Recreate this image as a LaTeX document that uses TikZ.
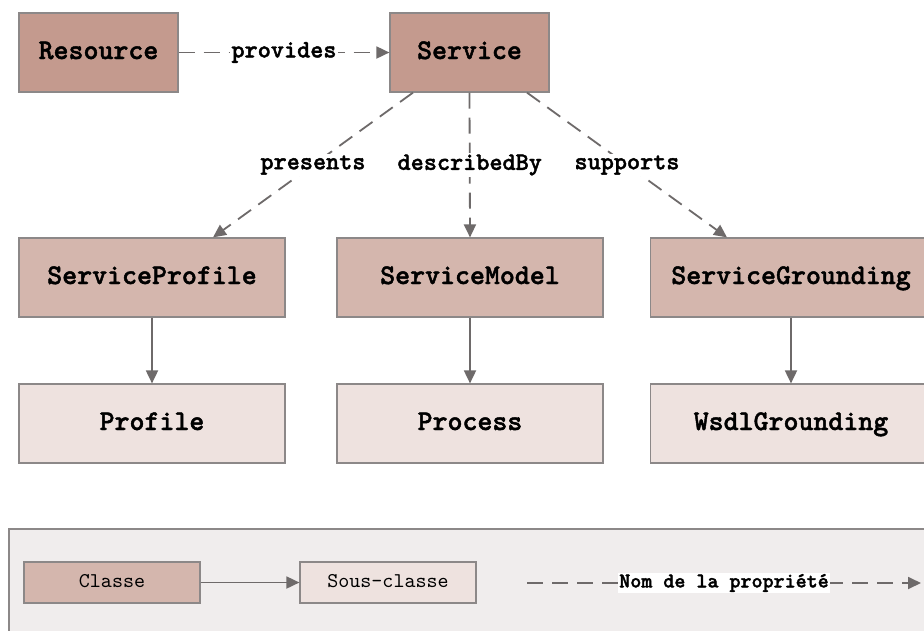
\documentclass[tikz,border=0pt]{standalone}
\usepackage{fontspec}
\newfontfamily\classfont{lmmonolt10-bold.otf}[FakeBold=1.6]
\newfontfamily\legendfont{lmmono10-regular.otf}
\usetikzlibrary{arrows.meta}

\definecolor{classdark}{HTML}{C49A8E}
\definecolor{classmid}{HTML}{D4B6AD}
\definecolor{classlight}{HTML}{EEE2DF}
\definecolor{legendbg}{HTML}{F0EDED}
\definecolor{edgegray}{HTML}{6E6A6A}
\definecolor{rimgray}{HTML}{8C8888}

\tikzset{
    box/.style={draw=rimgray, line width=1.2pt, inner sep=0pt, minimum height=79pt,
        text height=18pt, text depth=5pt,
        font=\classfont\fontsize{28.5}{30}\selectfont},
    topclass/.style={box, fill=classdark},
    midclass/.style={box, fill=classmid},
    subclass/.style={box, fill=classlight},
    legbox/.style={draw=rimgray, line width=1.2pt, inner sep=0pt, minimum width=176pt,
        minimum height=41pt, text height=13pt, text depth=4pt,
        font=\legendfont\fontsize{21}{23}\selectfont},
    proparrow/.style={draw=edgegray, line width=1.8pt, dash pattern=on 16pt off 9pt,
        -{Triangle[length=13pt,width=12pt]}},
    subarrow/.style={draw=edgegray, line width=1.8pt, -{Triangle[length=13pt,width=12pt]}},
    proplabel/.style={fill=white, inner sep=1.5pt, text=black,
        font=\classfont\fontsize{25}{27}\selectfont}
}

\begin{document}
\begin{tikzpicture}[x=1pt, y=-1pt]
    \clip (0,0) rectangle (924,630);
    \fill[white] (0,0) rectangle (924,630);

    % top row
    \node[topclass, minimum width=159pt] (res) at (98.5,52.5) {Resource};
    \node[topclass, minimum width=159pt] (svc) at (469.5,52.5) {Service};

    % second row
    \node[midclass, minimum width=266pt] (sprof) at (152,277.5) {ServiceProfile};
    \node[midclass, minimum width=266pt] (smod) at (470,277.5) {ServiceModel};
    \node[midclass, minimum width=281pt] (sgr) at (791,277.5) {ServiceGrounding};

    % third row
    \node[subclass, minimum width=266pt] (prof) at (152,423.5) {Profile};
    \node[subclass, minimum width=266pt] (proc) at (470,423.5) {Process};
    \node[subclass, minimum width=281pt] (wsdl) at (791,423.5) {WsdlGrounding};

    \draw[proparrow] (res) -- node[proplabel] {provides} (svc);
    \draw[proparrow] ([xshift=-56.5pt]svc.south) -- node[proplabel] {presents} ([xshift=61pt]sprof.north);
    \draw[proparrow] (svc.south) -- node[proplabel] {describedBy} (smod.north);
    \draw[proparrow] ([xshift=57.5pt]svc.south) -- node[proplabel] {supports} ([xshift=-64pt]sgr.north);

    \draw[subarrow] (sprof) -- (prof);
    \draw[subarrow] (smod) -- (proc);
    \draw[subarrow] (sgr) -- (wsdl);

    % legend
    \filldraw[fill=legendbg, draw=rimgray, line width=1.2pt] (9,529) rectangle (940,645);
    \node[legbox, fill=classmid] (classe) at (112,582.5) {Classe};
    \node[legbox, fill=classlight] (souscl) at (388,582.5) {Sous-classe};
    \coordinate (legA) at (527,583);
    \coordinate (legB) at (921,583);
    \draw[subarrow] (classe) -- (souscl);
    \draw[proparrow] (legA) -- node[proplabel, inner sep=1pt, font=\classfont\fontsize{21}{23}\selectfont] {Nom de la propriété} (legB);
\end{tikzpicture}
\end{document}
